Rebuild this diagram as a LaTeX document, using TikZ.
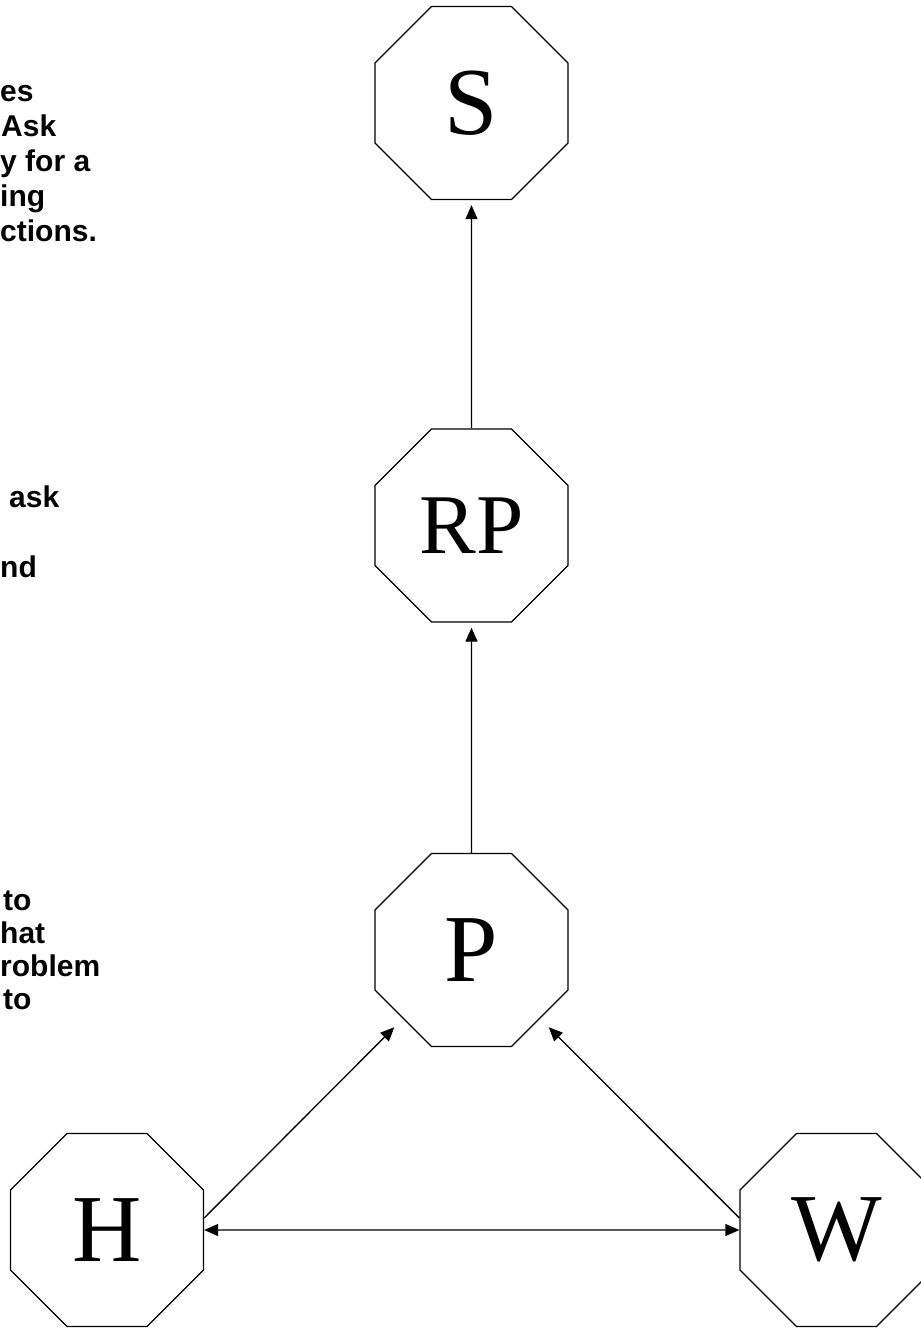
\documentclass[tikz,border=0pt]{standalone}
\usepackage{fontspec}
\setmainfont{Liberation Serif}
\setsansfont{Liberation Sans}
\usetikzlibrary{shapes.geometric,arrows.meta}
\begin{document}
\begin{tikzpicture}[x=1pt,y=-1pt,
  oct/.style={draw, line width=1.3pt, regular polygon, regular polygon sides=8,
    minimum size=208.9pt, inner sep=0pt, font=\fontsize{96}{96}\selectfont},
  tip/.style={Triangle[length=14pt,width=12pt]},
  conn/.style={line width=1.3pt, -{Triangle[length=14pt,width=12pt]}},
  lbl/.style={anchor=base west, inner sep=0pt,
    font=\sffamily\bfseries\fontsize{30}{35}\selectfont}]
\useasboundingbox (0,0) rectangle (920,1329);
% octagons
\node[oct] (S) at (471.5,103) {S};
\node[oct, font=\fontsize{85}{85}\selectfont] (RP) at (471.5,525.5) {RP};
\node[oct] (P) at (471.5,950) {P};
\node[oct] (H) at (107,1230) {H};
\node[oct] (W) at (836.5,1230) {W};
% connectors
\draw[conn, shorten >=5pt] (P.north) -- (RP.south);
\draw[conn, shorten >=5pt] (RP.north) -- (S.south);
\draw[conn, shorten >=12pt] ([yshift=12pt]H.east) -- (P.225);
\draw[conn, shorten >=12pt] ([yshift=12pt]W.west) -- (P.315);
\draw[line width=1.3pt, {Triangle[length=14pt,width=12pt]}-{Triangle[length=14pt,width=12pt]}] (H.east) -- (W.west);
% cropped text on the left
\node[lbl] (t1) at (0,102) {es};
\node[lbl] (t2) at (1,137) {Ask};
\node[lbl] (t3) at (0,172) {y for a};
\node[lbl] (t4) at (0,207) {ing};
\node[lbl] (t5) at (0,242) {ctions.};
\node[lbl] (t6) at (9,507) {ask};
\node[lbl] (t7) at (0,577) {nd};
\node[lbl] (t8) at (3,910) {to};
\node[lbl] (t9) at (0,943) {hat};
\node[lbl] (t10) at (0,976) {roblem};
\node[lbl] (t11) at (3,1009) {to};
\end{tikzpicture}
\end{document}
